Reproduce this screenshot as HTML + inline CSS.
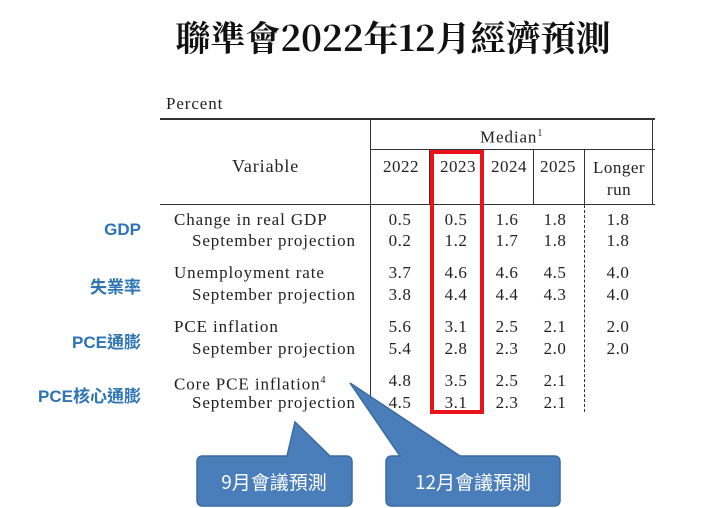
<!DOCTYPE html>
<html><head><meta charset="utf-8"><style>
body{margin:0;width:720px;height:508px;background:#fff;position:relative;overflow:hidden;font-family:"Liberation Serif",serif;color:#222}
.a{position:absolute;white-space:nowrap}
.t{font-size:17px;line-height:20px;letter-spacing:0.9px}
.n{font-size:17px;line-height:20px;text-align:center;width:50px;letter-spacing:0.5px}
.l{position:absolute;background:#333}
.b{color:#2e74b5;font-family:"Liberation Sans","Noto Sans CJK TC",sans-serif;font-size:17px;font-weight:bold;text-align:right;width:141px;left:0}
</style></head><body>
<div class="a" style="left:0;width:786px;text-align:center;top:12px;font-size:35px;font-family:'Noto Serif CJK TC','Noto Serif CJK SC',serif;font-weight:bold;color:#111">聯準會2022年12月經濟預測</div>
<div class="a t" style="left:166px;top:94px">Percent</div>
<div class="l" style="left:160px;top:118px;width:495px;height:2px"></div>
<div class="l" style="left:370px;top:118px;width:1px;height:294px"></div>
<div class="l" style="left:370px;top:149px;width:285px;height:1px"></div>
<div class="l" style="left:160px;top:204px;width:495px;height:1px"></div>
<div class="l" style="left:652px;top:118px;width:1px;height:87px"></div>
<div class="l" style="left:429px;top:150px;width:1px;height:55px"></div>
<div class="l" style="left:533px;top:150px;width:1px;height:55px"></div>
<div class="l" style="left:584px;top:150px;width:1px;height:55px"></div>
<div class="a" style="left:584px;top:205px;height:207px;border-left:1px dashed #333"></div>
<div class="a t" style="left:480px;top:124px">Median<sup style="font-size:10px">1</sup></div>
<div class="a t" style="left:232px;top:156px;font-size:18px">Variable</div>
<div class="a n" style="left:376px;top:157px">2022</div>
<div class="a n" style="left:433px;top:157px">2023</div>
<div class="a n" style="left:484px;top:157px">2024</div>
<div class="a n" style="left:533px;top:157px">2025</div>
<div class="a n" style="left:587px;top:157px;width:64px;line-height:22px">Longer<br>run</div>
<div class="a t" style="left:174px;top:210px">Change in real GDP</div>
<div class="a t" style="left:192px;top:231px">September projection</div>
<div class="a t" style="left:174px;top:263px">Unemployment rate</div>
<div class="a t" style="left:192px;top:285px">September projection</div>
<div class="a t" style="left:174px;top:317px">PCE inflation</div>
<div class="a t" style="left:192px;top:339px">September projection</div>
<div class="a t" style="left:174px;top:371px">Core PCE inflation<sup style="font-size:10px">4</sup></div>
<div class="a t" style="left:192px;top:393px">September projection</div>
<div class="a" style="top:210px;left:0">
<div class="a n" style="left:375px;top:0">0.5</div><div class="a n" style="left:431px;top:0">0.5</div><div class="a n" style="left:482px;top:0">1.6</div><div class="a n" style="left:530px;top:0">1.8</div><div class="a n" style="left:593px;top:0">1.8</div>
<div class="a n" style="left:375px;top:21px">0.2</div><div class="a n" style="left:431px;top:21px">1.2</div><div class="a n" style="left:482px;top:21px">1.7</div><div class="a n" style="left:530px;top:21px">1.8</div><div class="a n" style="left:593px;top:21px">1.8</div>
<div class="a n" style="left:375px;top:53px">3.7</div><div class="a n" style="left:431px;top:53px">4.6</div><div class="a n" style="left:482px;top:53px">4.6</div><div class="a n" style="left:530px;top:53px">4.5</div><div class="a n" style="left:593px;top:53px">4.0</div>
<div class="a n" style="left:375px;top:75px">3.8</div><div class="a n" style="left:431px;top:75px">4.4</div><div class="a n" style="left:482px;top:75px">4.4</div><div class="a n" style="left:530px;top:75px">4.3</div><div class="a n" style="left:593px;top:75px">4.0</div>
<div class="a n" style="left:375px;top:107px">5.6</div><div class="a n" style="left:431px;top:107px">3.1</div><div class="a n" style="left:482px;top:107px">2.5</div><div class="a n" style="left:530px;top:107px">2.1</div><div class="a n" style="left:593px;top:107px">2.0</div>
<div class="a n" style="left:375px;top:129px">5.4</div><div class="a n" style="left:431px;top:129px">2.8</div><div class="a n" style="left:482px;top:129px">2.3</div><div class="a n" style="left:530px;top:129px">2.0</div><div class="a n" style="left:593px;top:129px">2.0</div>
<div class="a n" style="left:375px;top:161px">4.8</div><div class="a n" style="left:431px;top:161px">3.5</div><div class="a n" style="left:482px;top:161px">2.5</div><div class="a n" style="left:530px;top:161px">2.1</div>
<div class="a n" style="left:375px;top:183px">4.5</div><div class="a n" style="left:431px;top:183px">3.1</div><div class="a n" style="left:482px;top:183px">2.3</div><div class="a n" style="left:530px;top:183px">2.1</div>
</div>
<div class="a" style="left:430px;top:150px;width:46px;height:256px;border:4px solid #e8141a"></div>
<div class="a b" style="top:220px">GDP</div>
<div class="a b" style="top:273px">失業率</div>
<div class="a b" style="top:328px">PCE通膨</div>
<div class="a b" style="top:382px">PCE核心通膨</div>
<svg class="a" style="left:0;top:0" width="720" height="508">
<g fill="#4a7ebb" stroke="#3a6aa0" stroke-width="1.5">
<path d="M203,456 H287 L295,422 L330,456 H346 Q352,456 352,462 V500 Q352,506 346,506 H203 Q197,506 197,500 V462 Q197,456 203,456 Z"/>
<path d="M392,456 H400 L350,383 L460,456 H554 Q560,456 560,462 V500 Q560,506 554,506 H392 Q386,506 386,500 V462 Q386,456 392,456 Z"/>
</g>
<g fill="#fff" font-family="'Noto Sans CJK TC','Noto Sans CJK SC',sans-serif" font-size="19">
<text x="274" y="489" text-anchor="middle">9月會議預測</text>
<text x="473" y="489" text-anchor="middle">12月會議預測</text>
</g>
</svg>
</body></html>
